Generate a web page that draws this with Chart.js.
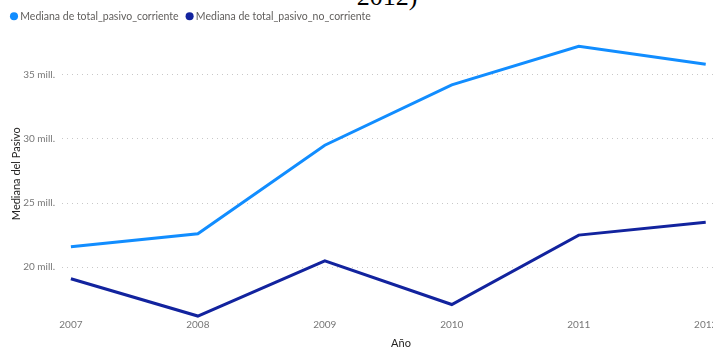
<!DOCTYPE html>
<html>
<head>
<meta charset="utf-8">
<script src="https://cdn.jsdelivr.net/npm/chart.js@4/dist/chart.umd.min.js"></script>
<style>
  html, body { margin: 0; padding: 0; background: #fff; overflow: hidden; width: 713px; height: 348px; }
  #titulo { position: absolute; left: 287px; width: 200px; top: -16px; text-align: center;
            font-family: 'Liberation Serif', serif; font-size: 26px; line-height: 26px; color: #000; }
  #wrap { position: absolute; left: 0; top: 1px; width: 760px; height: 349px; }
</style>
</head>
<body>
<div id="titulo">2012)</div>
<div id="wrap"><canvas id="grafico" width="760" height="349"></canvas></div>
<script>
// datos (millones)
const anios = [2007, 2008, 2009, 2010, 2011, 2012];
const pasivoCorriente = [21.6, 22.6, 29.5, 34.2, 37.2, 35.8];
const pasivoNoCorriente = [19.1, 16.2, 20.5, 17.1, 22.5, 23.5];
const ticksY = [20, 25, 30, 35];

const fuente = "Lato, 'Open Sans', sans-serif";

const ctx = document.getElementById('grafico').getContext('2d');
new Chart(ctx, {
  type: 'line',
  data: {
    datasets: [{
      label: 'Mediana de total_pasivo_corriente',
      data: anios.map((a, i) => ({ x: a, y: pasivoCorriente[i] })),
      borderColor: '#118DFF',
      backgroundColor: '#118DFF',
      borderWidth: 3,
      pointRadius: 0,
      tension: 0,
      clip: false
    }, {
      label: 'Mediana de total_pasivo_no_corriente',
      data: anios.map((a, i) => ({ x: a, y: pasivoNoCorriente[i] })),
      borderColor: '#12239E',
      backgroundColor: '#12239E',
      borderWidth: 3,
      pointRadius: 0,
      tension: 0,
      clip: false
    }]
  },
  options: {
    responsive: false,
    animation: false,
    layout: { padding: { left: 3, right: 20, top: 0, bottom: 0 } },
    plugins: {
      title: { display: false },
      legend: {
        align: 'start',
        labels: {
          usePointStyle: true,
          pointStyle: 'circle',
          boxWidth: 2,
          boxHeight: 5.7,
          padding: 10,
          color: '#605E5C',
          font: { family: fuente, size: 10.5 },
          generateLabels: chart => Chart.defaults.plugins.legend.labels.generateLabels(chart)
            .map(l => Object.assign(l, { lineWidth: 0 }))
        }
      },
      tooltip: { enabled: false }
    },
    scales: {
      x: {
        type: 'linear',
        min: 2006.93,
        max: 2012.27,
        grid: { display: false, drawTicks: false },
        border: { display: false },
        ticks: {
          includeBounds: false,
          stepSize: 1,
          color: '#777',
          padding: 3,
          font: { family: fuente, size: 10 },
          callback: v => String(v)
        },
        title: { display: true, text: 'Año', color: '#252423', font: { family: fuente, size: 11 }, padding: { top: 3, bottom: 0 } }
      },
      y: {
        min: 16.22,
        max: 38.35,
        grid: { color: '#c8c8c8', borderDash: [1, 4], drawTicks: false, lineWidth: 1 },
        border: { display: false, dash: [1, 4] },
        afterBuildTicks: axis => { axis.ticks = ticksY.map(v => ({ value: v })); },
        afterFit: axis => { axis.width = 59; },
        ticks: {
          color: '#777',
          padding: 7,
          font: { family: fuente, size: 10 },
          callback: v => v + ' mill.'
        },
        title: { display: true, text: 'Mediana del Pasivo', color: '#252423', font: { family: fuente, size: 11 }, padding: { top: 7, bottom: 0 } }
      }
    }
  }
});
</script>
</body>
</html>
